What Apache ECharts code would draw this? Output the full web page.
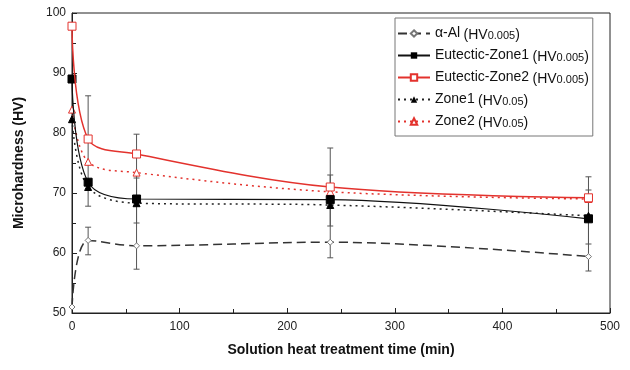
<!DOCTYPE html>
<html>
<head>
<meta charset="utf-8">
<script src="https://cdn.jsdelivr.net/npm/echarts@6/dist/echarts.min.js"></script>
<style>
  html, body { margin: 0; padding: 0; background: #fff; }
  #chart { width: 630px; height: 370px; }
</style>
</head>
<body>
<div id="chart"></div>
<script>
// solution heat treatment time (min)
const times = [0, 15, 60, 240, 480];

// microhardness (HV)
const alphaAl = [51, 62.1, 61.2, 61.8, 59.4];
const eutecticZone1 = [89, 71.8, 69.0, 68.9, 65.7];
const eutecticZone2 = [97.8, 79, 76.5, 71.0, 69.2];
const zone1 = [82.3, 71, 68.3, 68.0, 66.2];
const zone2 = [83.9, 75.2, 73.4, 70.2, 69.0];

// error bars: [time, low, high]
const errorBars = [
  [15, 67.8, 86.2],
  [15, 59.7, 64.3],
  [60, 57.3, 79.8],
  [60, 65.0, 72.5],
  [240, 59.2, 77.5],
  [240, 64.5, 73.0],
  [480, 57.0, 72.7],
  [480, 61.5, 70.5]
];

const legendLabels = {
  "α-Al": ["α-Al", "0.005"],
  "Eutectic-Zone1": ["Eutectic-Zone1", "0.005"],
  "Eutectic-Zone2": ["Eutectic-Zone2", "0.005"],
  "Zone1": ["Zone1", "0.05"],
  "Zone2": ["Zone2", "0.05"]
};

const RED = "#e3322d";
const pairs = (ys) => times.map((t, i) => [t, ys[i]]);

const chart = echarts.init(document.getElementById("chart"));

chart.setOption({
  animation: false,
  backgroundColor: "#fff",
  textStyle: { fontFamily: "Liberation Sans, Arial, sans-serif" },
  grid: {
    left: 72, right: 20, top: 13, bottom: 57,
    show: true, borderColor: "#222", borderWidth: 1
  },
  legend: {
    orient: "vertical",
    left: 395,
    top: 18,
    padding: [7, 4, 6, 2],
    itemGap: 5,
    itemWidth: 32,
    itemHeight: 8,
    borderColor: "#777",
    borderWidth: 1,
    backgroundColor: "#fff",
    data: ["α-Al", "Eutectic-Zone1", "Eutectic-Zone2", "Zone1", "Zone2"],
    formatter: (name) => {
      const [main, sub] = legendLabels[name];
      return `{a|${main}} {b|(HV}{c|${sub}}{b|)}`;
    },
    textStyle: {
      rich: {
        a: { fontSize: 14, lineHeight: 16, color: "#111", fontFamily: "Liberation Sans" },
        b: { fontSize: 14, lineHeight: 16, color: "#111", fontFamily: "Liberation Sans", padding: [3, 0, 0, 0] },
        c: { fontSize: 11, lineHeight: 16, color: "#111", fontFamily: "Liberation Sans", padding: [5, 0, 0, 0] }
      }
    }
  },
  xAxis: {
    type: "value",
    min: 0,
    max: 500,
    interval: 100,
    name: "Solution heat treatment time (min)",
    nameLocation: "middle",
    nameGap: 30,
    nameTextStyle: { fontSize: 14, fontWeight: "bold", color: "#111" },
    axisLine: { lineStyle: { color: "#222" } },
    axisTick: { inside: true, length: 5, lineStyle: { color: "#222" } },
    minorTick: { show: true, splitNumber: 2, length: 4, lineStyle: { color: "#222" } },
    axisLabel: { fontSize: 12, color: "#222", margin: 8 },
    splitLine: { show: false }
  },
  yAxis: {
    type: "value",
    min: 50,
    max: 100,
    interval: 10,
    name: "Microhardness (HV)",
    nameLocation: "middle",
    nameGap: 46,
    nameTextStyle: { fontSize: 14, fontWeight: "bold", color: "#111" },
    axisLine: { show: true, lineStyle: { color: "#222" } },
    axisTick: { inside: true, length: 5, lineStyle: { color: "#222" } },
    minorTick: { show: true, splitNumber: 2, length: 4, lineStyle: { color: "#222" } },
    axisLabel: { fontSize: 12, color: "#222", margin: 6 },
    splitLine: { show: false }
  },
  series: [
    {
      name: "errors",
      type: "custom",
      data: errorBars,
      silent: true,
      z: 1,
      renderItem: (params, api) => {
        const x = api.value(0);
        const lo = api.coord([x, api.value(1)]);
        const hi = api.coord([x, api.value(2)]);
        const w = 3;
        const style = { stroke: "#555", lineWidth: 1 };
        return {
          type: "group",
          children: [
            { type: "line", shape: { x1: lo[0], y1: lo[1], x2: hi[0], y2: hi[1] }, style },
            { type: "line", shape: { x1: lo[0] - w, y1: lo[1], x2: lo[0] + w, y2: lo[1] }, style },
            { type: "line", shape: { x1: hi[0] - w, y1: hi[1], x2: hi[0] + w, y2: hi[1] }, style }
          ]
        };
      }
    },
    {
      name: "α-Al",
      type: "line",
      smooth: 0.35,
      data: pairs(alphaAl),
      symbol: "diamond",
      symbolSize: 6,
      lineStyle: { color: "#333", width: 1.5, type: [9, 5] },
      itemStyle: { color: "#fff", borderColor: "#777", borderWidth: 1 },
      z: 3
    },
    {
      name: "Eutectic-Zone1",
      type: "line",
      smooth: 0.35,
      data: pairs(eutecticZone1),
      symbol: "rect",
      symbolSize: 8,
      lineStyle: { color: "#111", width: 1.2 },
      itemStyle: { color: "#000", borderColor: "#000" },
      z: 4
    },
    {
      name: "Eutectic-Zone2",
      type: "line",
      smooth: 0.35,
      data: pairs(eutecticZone2),
      symbol: "rect",
      symbolSize: 8,
      lineStyle: { color: RED, width: 1.5 },
      itemStyle: { color: "#fff", borderColor: RED, borderWidth: 1 },
      z: 5
    },
    {
      name: "Zone1",
      type: "line",
      smooth: 0.35,
      data: pairs(zone1),
      symbol: "triangle",
      symbolSize: 7,
      lineStyle: { color: "#222", width: 1.5, type: [2, 4] },
      itemStyle: { color: "#000", borderColor: "#000" },
      z: 3
    },
    {
      name: "Zone2",
      type: "line",
      smooth: 0.35,
      data: pairs(zone2),
      symbol: "triangle",
      symbolSize: 7,
      lineStyle: { color: RED, width: 1.5, type: [2, 4] },
      itemStyle: { color: "#fff", borderColor: RED, borderWidth: 1 },
      z: 3
    }
  ]
});
</script>
</body>
</html>
